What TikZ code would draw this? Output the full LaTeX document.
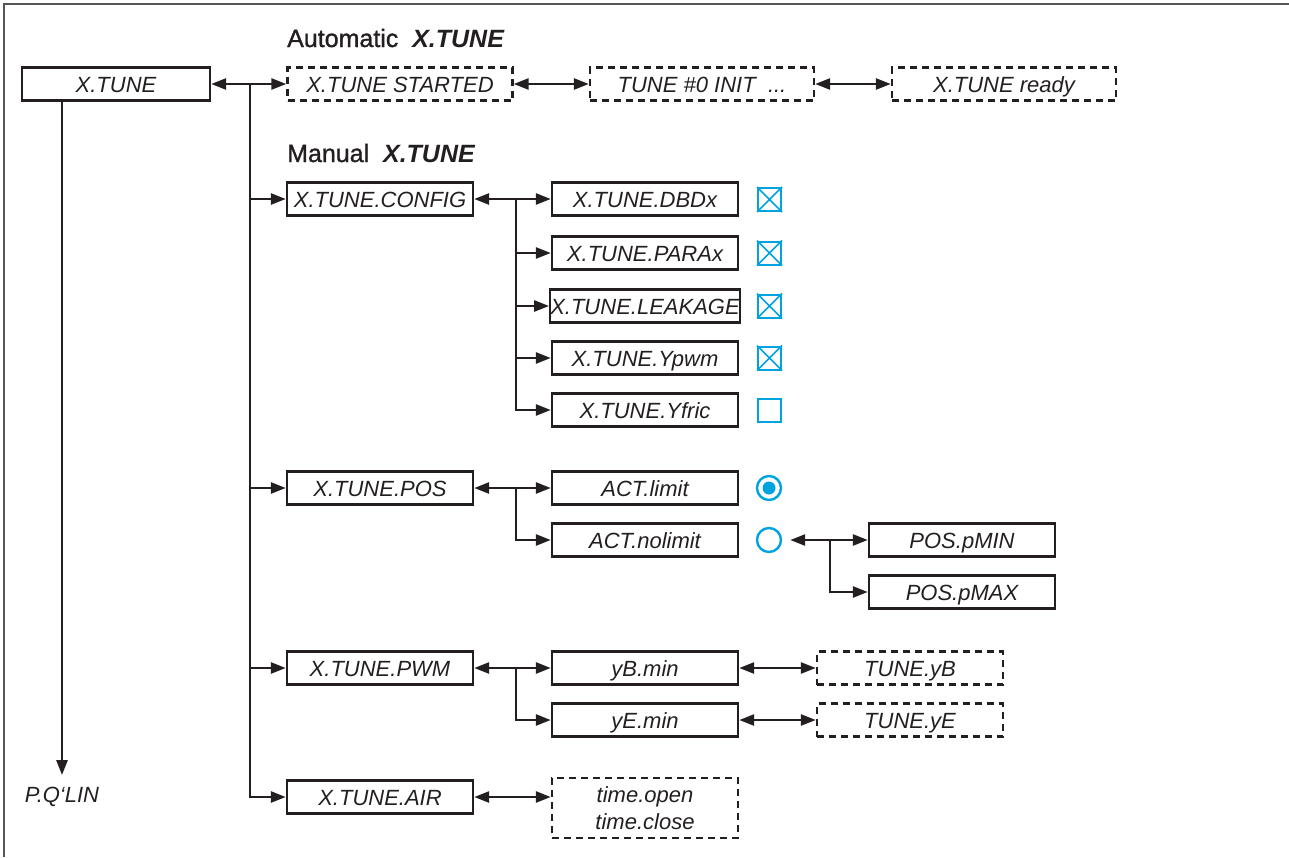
\documentclass[tikz,border=0pt]{standalone}
\usepackage{fontspec}
\setmainfont{Liberation Sans}
\usetikzlibrary{arrows.meta}
\definecolor{ink}{HTML}{231F20}
\definecolor{cyanb}{HTML}{00A3E0}
\definecolor{frame}{HTML}{555555}
\begin{document}
\begin{tikzpicture}[x=1pt,y=-1pt,
  dboxbase/.style={draw=ink, line width=2.4pt, minimum width=186pt, minimum height=33pt, inner sep=0pt, text=ink, font=\itshape\fontsize{22}{27}\selectfont},
  box/.style={dboxbase, text height=16pt, text depth=0pt},
  dbox/.style={box, dash pattern=on 7pt off 5pt},
  conn/.style={draw=ink, line width=2.6pt},
  arr/.style={conn, -{Triangle[length=15pt,width=11pt]}},
  darr/.style={conn, {Triangle[length=15pt,width=11pt]}-{Triangle[length=15pt,width=11pt]}},
  chk/.style={draw=cyanb, line width=2pt, minimum size=23pt, inner sep=0pt},
  radio/.style={circle, draw=cyanb, line width=2.4pt, minimum size=24pt, inner sep=0pt},
  hdr/.style={anchor=base west, inner sep=0pt, text=ink, font=\fontsize{25}{30}\selectfont},
  plain/.style={inner sep=0pt, text=ink, font=\itshape\fontsize{22}{26}\selectfont}
]
\useasboundingbox (0,0) rectangle (1289,857);
\draw[frame, line width=1.6pt] (4,857) -- (4,4) -- (1289,4);

% headers
\node[hdr] (hA) at (287,47) {{\addfontfeature{FakeBold=1.2}Automatic}\ \ \textbf{\textit{X.TUNE}}};
\node[hdr] (hM) at (287,162) {{\addfontfeature{FakeBold=1.2}Manual}\ \ \textbf{\textit{X.TUNE}}};

% top row
\node[box, minimum width=188pt] (xtune) at (116,84) {X.TUNE};
\node[dbox, minimum width=225pt] (started) at (400,84) {X.TUNE STARTED};
\node[dbox, minimum width=224pt] (init) at (702,84) {TUNE \#0 INIT\ \ ...};
\node[dbox, minimum width=224pt] (ready) at (1004,84) {X.TUNE ready};
\node[plain] (pq) at (62,797) {P.Q‘LIN};

\draw[darr] (xtune.east) -- (started.west);
\draw[darr] (started.east) -- (init.west);
\draw[darr] (init.east) -- (ready.west);
\draw[arr, shorten >=12pt] (xtune.south -| pq.north) -- (pq.north);

% level 1
\node[box] (config) at (380,199) {X.TUNE.CONFIG};
\node[box] (pos) at (380,488) {X.TUNE.POS};
\node[box] (pwm) at (380,668) {X.TUNE.PWM};
\node[box] (air) at (380,797) {X.TUNE.AIR};
\coordinate (v0) at (250,84);
\draw[arr] (v0) |- (config.west);
\draw[arr] (v0) |- (pos.west);
\draw[arr] (v0) |- (pwm.west);
\draw[arr] (v0) |- (air.west);

% config
\node[box] (dbd) at (645,199) {X.TUNE.DBDx};
\node[box] (para) at (645,253) {X.TUNE.PARAx};
\node[box] (leak) at (645,306) {X.TUNE.LEAKAGE};
\node[box] (ypwm) at (645,358) {X.TUNE.Ypwm};
\node[box] (yfric) at (645,410) {X.TUNE.Yfric};
\coordinate (v1) at (516,199);
\draw[darr] (config.east) -- (dbd.west);
\draw[arr] (v1) |- (para.west);
\draw[arr] (v1) |- (leak.west);
\draw[arr] (v1) |- (ypwm.west);
\draw[arr] (v1) |- (yfric.west);

\node[chk] (c1) at (769.5,199.5) {};
\node[chk] (c2) at (769.5,253) {};
\node[chk] (c3) at (769.5,306) {};
\node[chk] (c4) at (769.5,358) {};
\node[chk] (c5) at (769.5,410) {};
\foreach \c in {c1,c2,c3,c4}
  \draw[cyanb, line width=1.6pt] (\c.north west) -- (\c.south east) (\c.north east) -- (\c.south west);

% pos
\node[box] (lim) at (645,488) {ACT.limit};
\node[box] (nolim) at (645,540) {ACT.nolimit};
\coordinate (v2) at (516,488);
\draw[darr] (pos.east) -- (lim.west);
\draw[arr] (v2) |- (nolim.west);
\node[radio] (r1) at (769,488) {};
\fill[cyanb] (r1.center) circle (6.5pt);
\node[radio] (r2) at (769,540) {};
\node[box] (pmin) at (962,540) {POS.pMIN};
\node[box] (pmax) at (962,592) {POS.pMAX};
\coordinate (v3) at (830,540);
\draw[darr, shorten <=8pt] (r2.east) -- (pmin.west);
\draw[arr] (v3) |- (pmax.west);

% pwm
\node[box] (yb) at (645,668) {yB.min};
\node[box] (ye) at (645,720) {yE.min};
\node[dbox] (tyb) at (910,668) {TUNE.yB};
\node[dbox] (tye) at (910,720) {TUNE.yE};
\coordinate (v4) at (516,668);
\draw[darr] (pwm.east) -- (yb.west);
\draw[arr] (v4) |- (ye.west);
\draw[darr] (yb.east) -- (tyb.west);
\draw[darr] (ye.east) -- (tye.west);

% air
\node[dboxbase, dash pattern=on 7pt off 5pt, minimum height=60pt, align=center] (time) at (645,808) {time.open\\time.close};
\draw[darr] (air.east) -- (air.east -| time.west);
\end{tikzpicture}
\end{document}
